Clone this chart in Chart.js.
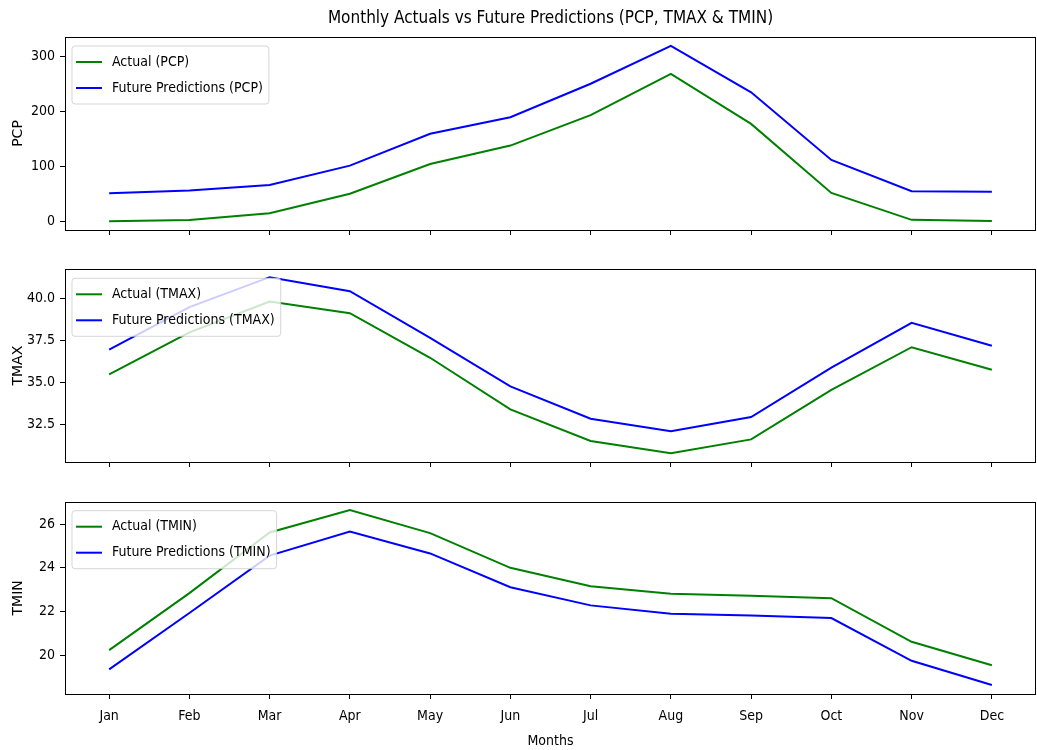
<!DOCTYPE html>
<html><head><meta charset="utf-8">
<script src="https://cdn.jsdelivr.net/npm/chart.js@4.4.0/dist/chart.umd.min.js"></script>
<style>
html,body{margin:0;padding:0;background:#fff;}
#wrap{position:relative;width:1037px;height:750px;overflow:hidden;background:#fff;}
#wrap div{position:absolute;left:0;width:1037px;}
</style></head><body>
<div id="wrap">
<div id="d1" style="top:0;height:245px;"><canvas id="c1"></canvas></div>
<div id="d2" style="top:245px;height:232px;"><canvas id="c2"></canvas></div>
<div id="d3" style="top:477px;height:273px;"><canvas id="c3"></canvas></div>
</div>
<script>
// ---- data ----
const months = ['Jan','Feb','Mar','Apr','May','Jun','Jul','Aug','Sep','Oct','Nov','Dec'];
const pcpActual  = [0, 2, 14.5, 50, 104, 137.5, 193, 268, 177, 51.5, 2.5, 0.5];
const pcpFuture  = [51, 56, 66, 101, 159, 189, 250, 319, 234.5, 111.5, 54.5, 53.5];
const tmaxActual = [35.49, 38.0, 39.84, 39.14, 36.48, 33.40, 31.51, 30.79, 31.61, 34.57, 37.11, 35.77];
const tmaxFuture = [36.96, 39.5, 41.29, 40.45, 37.67, 34.77, 32.84, 32.10, 32.94, 35.89, 38.57, 37.20];
const tminActual = [20.23, 22.84, 25.62, 26.65, 25.59, 24.0, 23.16, 22.81, 22.72, 22.61, 20.61, 19.54];
const tminFuture = [19.35, 21.93, 24.56, 25.66, 24.66, 23.11, 22.28, 21.90, 21.82, 21.70, 19.74, 18.63];
const pcpTicks  = [0, 100, 200, 300];
const tmaxTicks = [32.5, 35.0, 37.5, 40.0];
const tminTicks = [20, 22, 24, 26];

const COND = "'DejaVu Sans Condensed', 'Liberation Sans Narrow', 'DejaVu Sans', sans-serif";
const NORM = "'DejaVu Sans', sans-serif";

const framePlugin = {
  id: 'frameLegend',
  afterDatasetsDraw(chart) {
    const ctx = chart.ctx, a = chart.chartArea;
    ctx.save();
    ctx.strokeStyle = '#000';
    ctx.lineWidth = 1;
    ctx.strokeRect(Math.round(a.left) + 0.5, Math.round(a.top) + 0.5,
                   Math.round(a.right - a.left) - 1, Math.round(a.bottom - a.top));
    // legend
    ctx.font = '14px ' + COND;
    const ds = chart.data.datasets;
    let tw = 0;
    ds.forEach(d => { tw = Math.max(tw, ctx.measureText(d.label).width); });
    const bx = a.left + 7, by = a.top + 9, bw = 40 + tw + 6, bh = 58, r = 3;
    ctx.beginPath();
    ctx.moveTo(bx + r, by);
    ctx.arcTo(bx + bw, by, bx + bw, by + bh, r);
    ctx.arcTo(bx + bw, by + bh, bx, by + bh, r);
    ctx.arcTo(bx, by + bh, bx, by, r);
    ctx.arcTo(bx, by, bx + bw, by, r);
    ctx.closePath();
    ctx.fillStyle = 'rgba(255,255,255,0.8)';
    ctx.fill();
    ctx.strokeStyle = 'rgba(204,204,204,0.8)';
    ctx.lineWidth = 1;
    ctx.stroke();
    ds.forEach((d, i) => {
      const cy = by + 16 + i * 26;
      ctx.strokeStyle = d.borderColor;
      ctx.lineWidth = 2;
      ctx.beginPath();
      ctx.moveTo(bx + 4, cy);
      ctx.lineTo(bx + 30, cy);
      ctx.stroke();
      ctx.fillStyle = '#000';
      ctx.textBaseline = 'middle';
      ctx.textAlign = 'left';
      ctx.fillText(d.label, bx + 40, cy);
    });
    ctx.restore();
  }
};

function makeChart(id, opts) {
  const ds = [
    {label: opts.names[0], data: opts.a.map((v, i) => ({x: i, y: v})), borderColor: '#008000'},
    {label: opts.names[1], data: opts.f.map((v, i) => ({x: i, y: v})), borderColor: '#0000ff'}
  ];
  ds.forEach(d => { d.borderWidth = 2; d.pointRadius = 0; d.tension = 0; d.fill = false; });
  return new Chart(document.getElementById(id), {
    type: 'line',
    data: {datasets: ds},
    plugins: [framePlugin],
    options: {
      responsive: true,
      maintainAspectRatio: false,
      animation: false,
      layout: {padding: {left: 0, right: 1, top: opts.padTop, bottom: 0}},
      plugins: {
        legend: {display: false},
        tooltip: {enabled: false},
        title: opts.title ? {
          display: true, text: opts.title, fullSize: false, color: '#000',
          font: {family: COND, size: 17, weight: 'normal'},
          padding: {top: 8, bottom: 8.6}
        } : {display: false}
      },
      scales: {
        x: {
          type: 'linear', min: -0.55, max: 11.55,
          afterBuildTicks(s) { s.ticks = months.map((m, i) => ({value: i})); },
          afterFit(s) { s.height = opts.xHeight; },
          border: {display: false},
          grid: {drawOnChartArea: false, drawTicks: true, tickLength: 5, color: '#000', lineWidth: 1},
          ticks: {
            display: opts.showX, autoSkip: false, maxRotation: 0, padding: 9,
            color: '#000', font: {family: COND, size: 14},
            callback: (v) => months[v]
          },
          title: opts.showX ? {display: true, text: 'Months', color: '#000',
            font: {family: COND, size: 14}, padding: {top: 0, bottom: 0}} : {display: false}
        },
        y: {
          min: opts.min, max: opts.max,
          afterBuildTicks(s) { s.ticks = opts.ticks.map(v => ({value: v})); },
          afterFit(s) { s.width = 65; },
          border: {display: false},
          grid: {drawOnChartArea: false, drawTicks: true, tickLength: 5, color: '#000', lineWidth: 1},
          ticks: {
            padding: 5, color: '#000', font: {family: COND, size: 14},
            callback: (v) => v.toFixed(opts.dec)
          },
          title: {display: true, text: opts.ylabel, color: '#000',
            font: {family: NORM, size: 14}, padding: {top: 10, bottom: 0}}
        }
      }
    }
  });
}

makeChart('c1', {names: ['Actual (PCP)', 'Future Predictions (PCP)'], a: pcpActual, f: pcpFuture,
  min: -16, max: 335, ticks: pcpTicks, dec: 0, ylabel: 'PCP', padTop: 0, xHeight: 15, showX: false,
  title: 'Monthly Actuals vs Future Predictions (PCP, TMAX & TMIN)'});
makeChart('c2', {names: ['Actual (TMAX)', 'Future Predictions (TMAX)'], a: tmaxActual, f: tmaxFuture,
  min: 30.26, max: 41.76, ticks: tmaxTicks, dec: 1, ylabel: 'TMAX', padTop: 24.3, xHeight: 15, showX: false});
makeChart('c3', {names: ['Actual (TMIN)', 'Future Predictions (TMIN)'], a: tminActual, f: tminFuture,
  min: 18.22, max: 27.03, ticks: tminTicks, dec: 0, ylabel: 'TMIN', padTop: 24.7, xHeight: 56, showX: true});
</script>
</body></html>
